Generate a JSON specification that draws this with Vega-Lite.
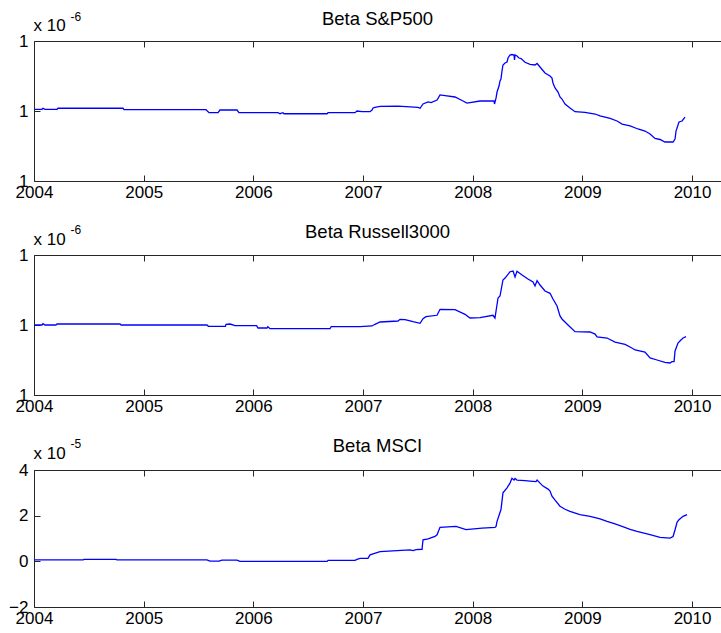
{
  "$schema": "https://vega.github.io/schema/vega-lite/v6.json",
  "padding": {"left": 8, "top": 9, "right": 0, "bottom": 0},
  "background": "white",
  "datasets": {
    "sp500": [
      {"t": 2004.000, "beta": 1.0024}, {"t": 2004.073, "beta": 1.0024}, {"t": 2004.082, "beta": 1.0039},
      {"t": 2004.100, "beta": 1.0024}, {"t": 2004.210, "beta": 1.0024}, {"t": 2004.219, "beta": 1.0039},
      {"t": 2004.812, "beta": 1.0039}, {"t": 2004.821, "beta": 1.0019}, {"t": 2005.568, "beta": 1.0019},
      {"t": 2005.596, "beta": 0.9976}, {"t": 2005.678, "beta": 0.9976}, {"t": 2005.696, "beta": 1.0014},
      {"t": 2005.851, "beta": 1.0014}, {"t": 2005.869, "beta": 0.9976}, {"t": 2006.225, "beta": 0.9976},
      {"t": 2006.243, "beta": 0.9961}, {"t": 2006.270, "beta": 0.9976}, {"t": 2006.280, "beta": 0.9961},
      {"t": 2006.672, "beta": 0.9961}, {"t": 2006.681, "beta": 0.9976}, {"t": 2006.927, "beta": 0.9976},
      {"t": 2006.945, "beta": 1.0000}, {"t": 2006.991, "beta": 0.9990}, {"t": 2007.064, "beta": 0.9990},
      {"t": 2007.082, "beta": 1.0014}, {"t": 2007.091, "beta": 1.0043}, {"t": 2007.109, "beta": 1.0053},
      {"t": 2007.155, "beta": 1.0067}, {"t": 2007.319, "beta": 1.0071}, {"t": 2007.501, "beta": 1.0053},
      {"t": 2007.520, "beta": 1.0039}, {"t": 2007.547, "beta": 1.0100}, {"t": 2007.593, "beta": 1.0129},
      {"t": 2007.620, "beta": 1.0121}, {"t": 2007.675, "beta": 1.0157}, {"t": 2007.702, "beta": 1.0229},
      {"t": 2007.748, "beta": 1.0221}, {"t": 2007.839, "beta": 1.0200}, {"t": 2007.903, "beta": 1.0150},
      {"t": 2007.948, "beta": 1.0114}, {"t": 2008.067, "beta": 1.0143}, {"t": 2008.194, "beta": 1.0143},
      {"t": 2008.199, "beta": 1.0100}, {"t": 2008.213, "beta": 1.0186}, {"t": 2008.222, "beta": 1.0271},
      {"t": 2008.240, "beta": 1.0357}, {"t": 2008.249, "beta": 1.0429}, {"t": 2008.258, "beta": 1.0457},
      {"t": 2008.267, "beta": 1.0571}, {"t": 2008.276, "beta": 1.0657}, {"t": 2008.295, "beta": 1.0686},
      {"t": 2008.313, "beta": 1.0700}, {"t": 2008.322, "beta": 1.0757}, {"t": 2008.340, "beta": 1.0800},
      {"t": 2008.358, "beta": 1.0807}, {"t": 2008.377, "beta": 1.0800}, {"t": 2008.381, "beta": 1.0729},
      {"t": 2008.386, "beta": 1.0800}, {"t": 2008.404, "beta": 1.0786}, {"t": 2008.422, "beta": 1.0757},
      {"t": 2008.441, "beta": 1.0750}, {"t": 2008.477, "beta": 1.0696}, {"t": 2008.523, "beta": 1.0667},
      {"t": 2008.568, "beta": 1.0657}, {"t": 2008.587, "beta": 1.0679}, {"t": 2008.614, "beta": 1.0629},
      {"t": 2008.659, "beta": 1.0543}, {"t": 2008.705, "beta": 1.0500}, {"t": 2008.723, "beta": 1.0471},
      {"t": 2008.732, "beta": 1.0400}, {"t": 2008.751, "beta": 1.0329}, {"t": 2008.778, "beta": 1.0271},
      {"t": 2008.796, "beta": 1.0200}, {"t": 2008.814, "beta": 1.0171}, {"t": 2008.842, "beta": 1.0100},
      {"t": 2008.887, "beta": 1.0043}, {"t": 2008.933, "beta": 0.9990}, {"t": 2009.024, "beta": 0.9979},
      {"t": 2009.116, "beta": 0.9957}, {"t": 2009.161, "beta": 0.9929}, {"t": 2009.253, "beta": 0.9893},
      {"t": 2009.316, "beta": 0.9857}, {"t": 2009.362, "beta": 0.9814}, {"t": 2009.435, "beta": 0.9786},
      {"t": 2009.507, "beta": 0.9743}, {"t": 2009.571, "beta": 0.9714}, {"t": 2009.617, "beta": 0.9671},
      {"t": 2009.662, "beta": 0.9607}, {"t": 2009.708, "beta": 0.9593}, {"t": 2009.753, "beta": 0.9557},
      {"t": 2009.827, "beta": 0.9557}, {"t": 2009.845, "beta": 0.9600}, {"t": 2009.854, "beta": 0.9714},
      {"t": 2009.881, "beta": 0.9843}, {"t": 2009.909, "beta": 0.9857}, {"t": 2009.936, "beta": 0.9914}
    ],
    "russell3000": [
      {"t": 2004.000, "beta": 1.0000}, {"t": 2004.073, "beta": 1.0000}, {"t": 2004.082, "beta": 1.0019},
      {"t": 2004.100, "beta": 1.0000}, {"t": 2004.200, "beta": 1.0000}, {"t": 2004.210, "beta": 1.0014},
      {"t": 2004.784, "beta": 1.0014}, {"t": 2004.794, "beta": 1.0000}, {"t": 2005.577, "beta": 1.0000},
      {"t": 2005.590, "beta": 0.9981}, {"t": 2005.745, "beta": 0.9981}, {"t": 2005.751, "beta": 1.0010},
      {"t": 2005.787, "beta": 1.0014}, {"t": 2005.833, "beta": 0.9990}, {"t": 2006.030, "beta": 0.9990},
      {"t": 2006.042, "beta": 0.9957}, {"t": 2006.125, "beta": 0.9957}, {"t": 2006.132, "beta": 0.9975},
      {"t": 2006.152, "beta": 0.9947}, {"t": 2006.699, "beta": 0.9947}, {"t": 2006.710, "beta": 0.9976},
      {"t": 2006.973, "beta": 0.9976}, {"t": 2007.082, "beta": 0.9986}, {"t": 2007.109, "beta": 1.0010},
      {"t": 2007.155, "beta": 1.0043}, {"t": 2007.319, "beta": 1.0057}, {"t": 2007.337, "beta": 1.0081},
      {"t": 2007.383, "beta": 1.0076}, {"t": 2007.456, "beta": 1.0047}, {"t": 2007.520, "beta": 1.0024},
      {"t": 2007.547, "beta": 1.0090}, {"t": 2007.574, "beta": 1.0119}, {"t": 2007.675, "beta": 1.0139},
      {"t": 2007.702, "beta": 1.0224}, {"t": 2007.839, "beta": 1.0219}, {"t": 2007.930, "beta": 1.0153},
      {"t": 2007.975, "beta": 1.0100}, {"t": 2008.067, "beta": 1.0104}, {"t": 2008.185, "beta": 1.0139},
      {"t": 2008.203, "beta": 1.0100}, {"t": 2008.213, "beta": 1.0200}, {"t": 2008.231, "beta": 1.0386},
      {"t": 2008.249, "beta": 1.0414}, {"t": 2008.276, "beta": 1.0643}, {"t": 2008.295, "beta": 1.0671},
      {"t": 2008.340, "beta": 1.0761}, {"t": 2008.368, "beta": 1.0771}, {"t": 2008.386, "beta": 1.0686},
      {"t": 2008.404, "beta": 1.0767}, {"t": 2008.450, "beta": 1.0714}, {"t": 2008.504, "beta": 1.0657},
      {"t": 2008.550, "beta": 1.0614}, {"t": 2008.568, "beta": 1.0557}, {"t": 2008.587, "beta": 1.0633},
      {"t": 2008.614, "beta": 1.0571}, {"t": 2008.659, "beta": 1.0486}, {"t": 2008.705, "beta": 1.0453},
      {"t": 2008.732, "beta": 1.0371}, {"t": 2008.769, "beta": 1.0271}, {"t": 2008.796, "beta": 1.0129},
      {"t": 2008.814, "beta": 1.0086}, {"t": 2008.869, "beta": 1.0000}, {"t": 2008.933, "beta": 0.9904},
      {"t": 2009.070, "beta": 0.9900}, {"t": 2009.116, "beta": 0.9871}, {"t": 2009.134, "beta": 0.9829},
      {"t": 2009.225, "beta": 0.9814}, {"t": 2009.298, "beta": 0.9757}, {"t": 2009.389, "beta": 0.9724},
      {"t": 2009.435, "beta": 0.9686}, {"t": 2009.481, "beta": 0.9643}, {"t": 2009.571, "beta": 0.9614},
      {"t": 2009.617, "beta": 0.9529}, {"t": 2009.681, "beta": 0.9500}, {"t": 2009.753, "beta": 0.9467},
      {"t": 2009.799, "beta": 0.9457}, {"t": 2009.817, "beta": 0.9476}, {"t": 2009.836, "beta": 0.9476},
      {"t": 2009.845, "beta": 0.9629}, {"t": 2009.872, "beta": 0.9743}, {"t": 2009.899, "beta": 0.9786},
      {"t": 2009.918, "beta": 0.9814}, {"t": 2009.945, "beta": 0.9833}
    ],
    "msci": [
      {"t": 2004.000, "beta": 0.062}, {"t": 2004.447, "beta": 0.062}, {"t": 2004.457, "beta": 0.088},
      {"t": 2004.747, "beta": 0.088}, {"t": 2004.757, "beta": 0.062}, {"t": 2005.577, "beta": 0.062},
      {"t": 2005.605, "beta": 0.009}, {"t": 2005.687, "beta": 0.009}, {"t": 2005.714, "beta": 0.053},
      {"t": 2005.851, "beta": 0.053}, {"t": 2005.878, "beta": 0.000}, {"t": 2006.672, "beta": 0.000},
      {"t": 2006.681, "beta": 0.044}, {"t": 2006.927, "beta": 0.044}, {"t": 2006.945, "beta": 0.088},
      {"t": 2006.973, "beta": 0.132}, {"t": 2007.045, "beta": 0.132}, {"t": 2007.064, "beta": 0.282},
      {"t": 2007.155, "beta": 0.428}, {"t": 2007.428, "beta": 0.503}, {"t": 2007.456, "beta": 0.472},
      {"t": 2007.483, "beta": 0.516}, {"t": 2007.538, "beta": 0.529}, {"t": 2007.547, "beta": 0.944},
      {"t": 2007.593, "beta": 0.979}, {"t": 2007.656, "beta": 1.090}, {"t": 2007.675, "beta": 1.165},
      {"t": 2007.702, "beta": 1.487}, {"t": 2007.848, "beta": 1.531}, {"t": 2007.939, "beta": 1.385},
      {"t": 2008.085, "beta": 1.456}, {"t": 2008.203, "beta": 1.487}, {"t": 2008.213, "beta": 1.531},
      {"t": 2008.222, "beta": 1.751}, {"t": 2008.258, "beta": 2.267}, {"t": 2008.276, "beta": 3.000},
      {"t": 2008.313, "beta": 3.220}, {"t": 2008.340, "beta": 3.427}, {"t": 2008.358, "beta": 3.635},
      {"t": 2008.377, "beta": 3.560}, {"t": 2008.386, "beta": 3.626}, {"t": 2008.404, "beta": 3.560},
      {"t": 2008.477, "beta": 3.538}, {"t": 2008.523, "beta": 3.516}, {"t": 2008.577, "beta": 3.494},
      {"t": 2008.587, "beta": 3.560}, {"t": 2008.614, "beta": 3.427}, {"t": 2008.641, "beta": 3.295},
      {"t": 2008.687, "beta": 3.163}, {"t": 2008.705, "beta": 3.075}, {"t": 2008.723, "beta": 2.854},
      {"t": 2008.751, "beta": 2.678}, {"t": 2008.796, "beta": 2.413}, {"t": 2008.842, "beta": 2.280},
      {"t": 2008.887, "beta": 2.192}, {"t": 2008.978, "beta": 2.047}, {"t": 2009.070, "beta": 1.972},
      {"t": 2009.161, "beta": 1.861}, {"t": 2009.225, "beta": 1.751}, {"t": 2009.298, "beta": 1.641},
      {"t": 2009.362, "beta": 1.531}, {"t": 2009.435, "beta": 1.398}, {"t": 2009.498, "beta": 1.310},
      {"t": 2009.571, "beta": 1.222}, {"t": 2009.617, "beta": 1.165}, {"t": 2009.708, "beta": 1.045},
      {"t": 2009.799, "beta": 1.015}, {"t": 2009.827, "beta": 1.090}, {"t": 2009.845, "beta": 1.385},
      {"t": 2009.863, "beta": 1.707}, {"t": 2009.881, "beta": 1.826}, {"t": 2009.918, "beta": 1.972},
      {"t": 2009.954, "beta": 2.047}
    ]
  },
  "vconcat": [
    {
      "title": {"text": "Beta S&P500"},
      "width": 687,
      "height": 140,
      "data": {"name": "sp500"},
      "layer": [
        {
          "mark": {"type": "line", "color": "#0000ff", "strokeWidth": 1.3},
          "encoding": {
            "x": {"field": "t", "type": "quantitative", "scale": {"domain": [2004, 2010.264], "nice": false, "zero": false},
                  "axis": {"orient": "bottom", "values": [2004, 2005, 2006, 2007, 2008, 2009, 2010], "format": "d", "labelPadding": 9.5, "title": null}},
            "y": {"field": "beta", "type": "quantitative", "scale": {"domain": [0.9, 1.1], "nice": false, "zero": false},
                  "axis": {"orient": "left", "values": [0.9, 1.0, 1.1], "format": ".0f", "labelPadding": 12,
                           "title": "x 10", "titleAngle": 0, "titleX": -1, "titleY": -11, "titleAlign": "left", "titleBaseline": "alphabetic", "titleFontSize": 17}}
          }
        },
        {
          "mark": {"type": "line", "opacity": 0},
          "encoding": {
            "x": {"field": "t", "type": "quantitative",
                  "axis": {"orient": "top", "values": [2004, 2005, 2006, 2007, 2008, 2009, 2010], "labels": false,
                           "title": "-6", "titleAngle": 0, "titleX": 36, "titleY": -21, "titleAlign": "left", "titleBaseline": "alphabetic", "titleFontSize": 12}},
            "y": {"field": "beta", "type": "quantitative"}
          }
        }
      ]
    },
    {
      "title": {"text": "Beta Russell3000"},
      "width": 687,
      "height": 140,
      "data": {"name": "russell3000"},
      "layer": [
        {
          "mark": {"type": "line", "color": "#0000ff", "strokeWidth": 1.3},
          "encoding": {
            "x": {"field": "t", "type": "quantitative", "scale": {"domain": [2004, 2010.264], "nice": false, "zero": false},
                  "axis": {"orient": "bottom", "values": [2004, 2005, 2006, 2007, 2008, 2009, 2010], "format": "d", "labelPadding": 9.5, "title": null}},
            "y": {"field": "beta", "type": "quantitative", "scale": {"domain": [0.9, 1.1], "nice": false, "zero": false},
                  "axis": {"orient": "left", "values": [0.9, 1.0, 1.1], "format": ".0f", "labelPadding": 12,
                           "title": "x 10", "titleAngle": 0, "titleX": -1, "titleY": -11, "titleAlign": "left", "titleBaseline": "alphabetic", "titleFontSize": 17}}
          }
        },
        {
          "mark": {"type": "line", "opacity": 0},
          "encoding": {
            "x": {"field": "t", "type": "quantitative",
                  "axis": {"orient": "top", "values": [2004, 2005, 2006, 2007, 2008, 2009, 2010], "labels": false,
                           "title": "-6", "titleAngle": 0, "titleX": 36, "titleY": -22, "titleAlign": "left", "titleBaseline": "alphabetic", "titleFontSize": 12}},
            "y": {"field": "beta", "type": "quantitative"}
          }
        }
      ]
    },
    {
      "title": {"text": "Beta MSCI"},
      "width": 687,
      "height": 137,
      "data": {"name": "msci"},
      "layer": [
        {
          "mark": {"type": "line", "color": "#0000ff", "strokeWidth": 1.3},
          "encoding": {
            "x": {"field": "t", "type": "quantitative", "scale": {"domain": [2004, 2010.264], "nice": false, "zero": false},
                  "axis": {"orient": "bottom", "values": [2004, 2005, 2006, 2007, 2008, 2009, 2010], "format": "d", "labelPadding": 9.5, "title": null}},
            "y": {"field": "beta", "type": "quantitative", "scale": {"domain": [-2, 4], "nice": false, "zero": false},
                  "axis": {"orient": "left", "values": [-2, 0, 2, 4], "format": "d", "labelPadding": 12,
                           "title": "x 10", "titleAngle": 0, "titleX": -1, "titleY": -12, "titleAlign": "left", "titleBaseline": "alphabetic", "titleFontSize": 17}}
          }
        },
        {
          "mark": {"type": "line", "opacity": 0},
          "encoding": {
            "x": {"field": "t", "type": "quantitative",
                  "axis": {"orient": "top", "values": [2004, 2005, 2006, 2007, 2008, 2009, 2010], "labels": false,
                           "title": "-5", "titleAngle": 0, "titleX": 36, "titleY": -23, "titleAlign": "left", "titleBaseline": "alphabetic", "titleFontSize": 12}},
            "y": {"field": "beta", "type": "quantitative"}
          }
        }
      ]
    }
  ],
  "spacing": 21,
  "config": {
    "font": "Liberation Sans",
    "view": {"stroke": null},
    "axis": {
      "grid": false,
      "domainColor": "#262626",
      "tickColor": "#262626",
      "domainWidth": 1,
      "tickWidth": 1,
      "tickSize": -6,
      "labelColor": "#000000",
      "labelFont": "Liberation Sans",
      "labelFontSize": 17,
      "labelOverlap": false,
      "labelFlush": false,
      "titleFont": "Liberation Sans",
      "titleFontWeight": "normal",
      "titleColor": "#000000"
    },
    "title": {
      "font": "Liberation Sans",
      "fontSize": 18.5,
      "fontWeight": "normal",
      "color": "#000000",
      "anchor": "middle",
      "offset": 0,
      "dy": 22
    }
  }
}
